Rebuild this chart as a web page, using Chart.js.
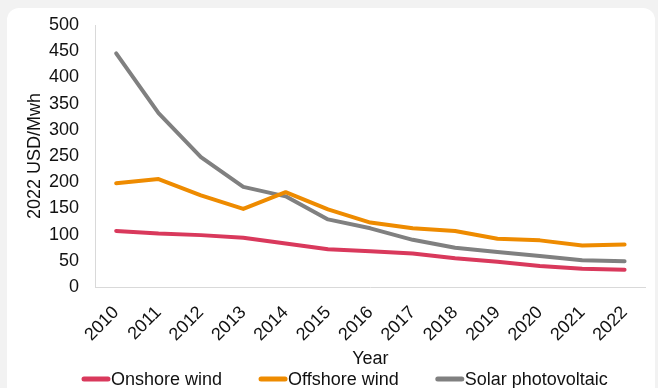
<!DOCTYPE html>
<html>
<head>
<meta charset="utf-8">
<script src="https://cdn.jsdelivr.net/npm/chart.js@4"></script>
<style>
  html, body { margin: 0; padding: 0; background: #f2f2f2; }
  .card {
    position: absolute; left: 7px; top: 8px;
    width: 648px; height: 380px;
    background: #fff; border-radius: 12px 12px 0 0;
  }
  canvas { display: block; }
</style>
</head>
<body>
<div class="card"><canvas id="grafico" width="648" height="380"></canvas></div>
<script>
// Custo nivelado da eletricidade (2022 USD/MWh)
const anos = ["2010", "2011", "2012", "2013", "2014", "2015", "2016", "2017", "2018", "2019", "2020", "2021", "2022"];
const onshore = [107, 102, 99, 94, 83, 72, 68, 64, 55, 48, 40, 35, 33];
const offshore = [198, 206, 175, 149, 181, 148, 123, 112, 107, 92, 89, 79, 81];
const solar = [446, 332, 248, 191, 173, 129, 112, 90, 75, 67, 59, 51, 49];

const fonte = { family: "'Liberation Sans', Arial, sans-serif", size: 18 };
const corTexto = "#111";

function serie(label, data, cor) {
  return {
    label, data,
    borderColor: cor, backgroundColor: cor,
    borderWidth: 4, tension: 0, pointRadius: 0,
    borderJoinStyle: "round", borderCapStyle: "round"
  };
}

// legenda desenhada à mão: traço curto + texto colado, itens bem espaçados
const legendaLinha = {
  id: "legendaLinha",
  afterDraw(chart) {
    const ctx = chart.ctx;
    const y = 371;
    let x = 75;
    ctx.save();
    ctx.font = "18px 'Liberation Sans', Arial, sans-serif";
    ctx.textBaseline = "middle";
    chart.data.datasets.forEach(ds => {
      ctx.strokeStyle = ds.borderColor;
      ctx.lineWidth = 5;
      ctx.lineCap = "round";
      ctx.beginPath();
      ctx.moveTo(x + 2, y);
      ctx.lineTo(x + 26, y);
      ctx.stroke();
      ctx.fillStyle = corTexto;
      ctx.fillText(ds.label, x + 29, y + 1);
      x += 29 + ctx.measureText(ds.label).width + 37;
    });
    ctx.restore();
  }
};

new Chart(document.getElementById("grafico").getContext("2d"), {
  type: "line",
  data: {
    labels: anos,
    datasets: [
      serie("Onshore wind", onshore, "#d9395c"),
      serie("Offshore wind", offshore, "#ee8b00"),
      serie("Solar photovoltaic", solar, "#808080")
    ]
  },
  options: {
    responsive: false,
    animation: false,
    layout: { padding: { top: 17, right: 4, left: 0, bottom: 15 } },
    plugins: {
      tooltip: { enabled: false },
      legend: { display: false }
    },
    scales: {
      x: {
        offset: true,
        grid: { display: false, drawTicks: false },
        border: { display: true, color: "#d9d9d9", width: 1 },
        ticks: { minRotation: 45, maxRotation: 45, autoSkip: false, padding: 15, color: corTexto, font: fonte },
        title: { display: true, text: "Year", color: corTexto, font: fonte, padding: { top: 4, bottom: 3 } },
        afterFit(s) { s.height = 86; }
      },
      y: {
        min: 0, max: 500,
        grid: { display: false, drawTicks: false },
        border: { display: true, color: "#d9d9d9", width: 1 },
        ticks: { stepSize: 50, autoSkip: false, padding: 16, color: corTexto, font: fonte },
        title: { display: true, text: "2022 USD/Mwh", color: corTexto, font: fonte, padding: { top: 17, bottom: 0 } },
        afterFit(s) { s.width = 88; s.paddingTop = 0; s.paddingBottom = 0; }
      }
    }
  },
  plugins: [legendaLinha]
});
</script>
</body>
</html>
